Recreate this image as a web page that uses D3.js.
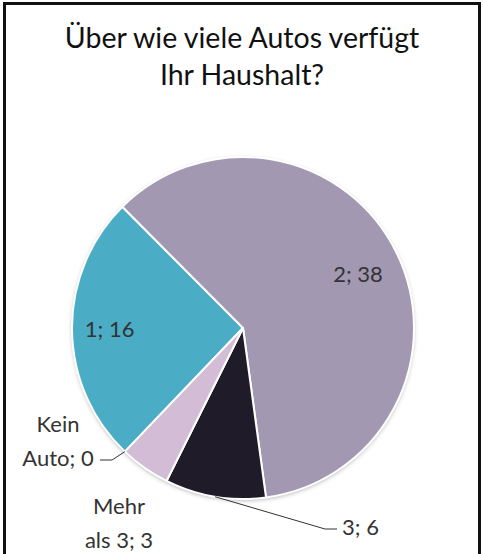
<!DOCTYPE html>
<html>
<head>
<meta charset="utf-8">
<script src="https://cdn.jsdelivr.net/npm/d3@7"></script>
<style>
  body { margin: 0; background: #fff; }
  svg text { font-family: Lato, "Open Sans", sans-serif; }
</style>
</head>
<body>
<svg id="chart" width="483" height="554"></svg>
<script>
// categories and counts, in the order Excel draws them (clockwise)
const categories = ["Kein Auto", "1", "2", "3", "Mehr als 3"]
const values = [0, 16, 38, 6, 3]
const colors = ["#8a7fa0", "#4bacc6", "#a298b2", "#1f1b29", "#d2bcd6"]
const titleLines = ["Über wie viele Autos verfügt", "Ihr Haushalt?"]

let svg = d3.select("#chart"),
    cx = 243, cy = 328, r = 171;

// frame
svg.append("rect")
    .attr("x", 4.5).attr("y", 3.5)
    .attr("width", 475).attr("height", 570)
    .attr("fill", "none")
    .attr("stroke", "#111")
    .attr("stroke-width", 3);

svg.append("text")
    .attr("x", 242).attr("y", 48)
    .attr("text-anchor", "middle")
    .attr("font-size", 28.5)
    .attr("fill", "#111")
    .selectAll("tspan")
    .data(titleLines).enter()
    .append("tspan")
    .attr("x", 242)
    .attr("dy", (d, i) => i ? 37 : 0)
    .text(d => d);

let defs = svg.append("defs");
defs.append("filter").attr("id", "shadow")
    .attr("x", "-10%").attr("y", "-10%").attr("width", "120%").attr("height", "120%")
    .append("feDropShadow")
    .attr("dx", 0).attr("dy", 1.5)
    .attr("stdDeviation", 2)
    .attr("flood-color", "#000")
    .attr("flood-opacity", 0.3);

const start = 223.7 * Math.PI / 180;
let pie = d3.pie().sort(null).value(d => d.v)
    .startAngle(start).endAngle(start + 2 * Math.PI);
let data = pie(categories.map((c, i) => ({c: c, v: values[i], col: colors[i]})));
let arc = d3.arc().innerRadius(0).outerRadius(r);

let g = svg.append("g").attr("transform", `translate(${cx},${cy})`);
g.append("circle").attr("r", r).attr("fill", "#fff").attr("filter", "url(#shadow)");
g.selectAll("path")
    .data(data.filter(d => d.data.v > 0)).enter()
    .append("path")
    .attr("d", arc)
    .attr("fill", d => d.data.col)
    .attr("stroke", "#fff")
    .attr("stroke-width", 2)
    .attr("stroke-linejoin", "round");

// point on the rim / inside at a given angle
const at = (a, rad) => [Math.sin(a) * rad, -Math.cos(a) * rad];
const mid = d => (d.startAngle + d.endAngle) / 2;

// label placement (Excel "best fit")
const labelPos = {
    "Kein Auto": {lines: ["Kein", "Auto; 0"], x: -185, y: 96, anchor: "middle", leader: [[-131, 132], [-143, 132]]},
    "1": {lines: ["1; 16"], rad: 0.78, anchor: "middle"},
    "2": {lines: ["2; 38"], rad: 0.75, dy: 3, anchor: "middle"},
    "3": {lines: ["3; 6"], x: 99, y: 199, anchor: "start", leader: [[82, 201], [94, 201]]},
    "Mehr als 3": {lines: ["Mehr", "als 3; 3"], x: -124, y: 178, anchor: "middle"}
};

data.forEach(d => {
    let p = labelPos[d.data.c], x, y;
    if (p.rad) {
        [x, y] = at(mid(d), r * p.rad);
        y += p.dy || 0;
    } else {
        x = p.x; y = p.y;
    }
    if (p.leader) {
        let pts = [at(mid(d), r)].concat(p.leader);
        g.append("path")
            .attr("d", d3.line()(pts))
            .attr("fill", "none")
            .attr("stroke", "#333")
            .attr("stroke-width", 1);
    }
    g.append("text")
        .attr("text-anchor", p.anchor)
        .attr("font-size", 22)
        .attr("fill", "#333")
        .selectAll("tspan")
        .data(p.lines).enter()
        .append("tspan")
        .attr("x", x)
        .attr("y", (l, i) => y + 8 + i * 34)
        .text(l => l);
});
</script>
</body>
</html>
